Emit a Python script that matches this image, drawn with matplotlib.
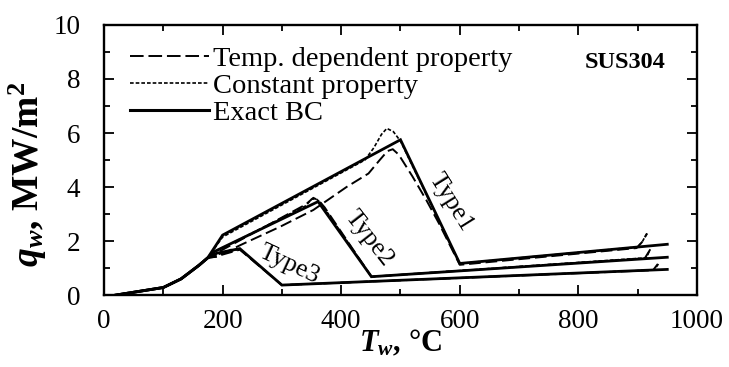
import matplotlib
matplotlib.use("Agg")
import matplotlib.pyplot as plt
from matplotlib.lines import Line2D
from matplotlib.ticker import MultipleLocator

plt.rcParams['font.family'] = ['Liberation Serif', 'DejaVu Serif']
plt.rcParams['mathtext.fontset'] = 'custom'
plt.rcParams['mathtext.rm'] = 'Liberation Serif'
plt.rcParams['mathtext.it'] = 'Liberation Serif:italic'
plt.rcParams['mathtext.bf'] = 'Liberation Serif:bold'
plt.rcParams['mathtext.bfit'] = 'Liberation Serif:italic:bold'

# common rising part (all cases)
rise_T = [20, 100, 130, 160, 175]
rise_q = [0.0, 0.28, 0.60, 1.10, 1.38]

# Type1
t1_exact_T = rise_T + [200, 500, 600, 950]
t1_exact_q = rise_q + [2.22, 5.75, 1.17, 1.88]
t1_const_T = rise_T + [200, 440, 455, 468, 477, 488, 500, 600, 900, 908, 916]
t1_const_q = rise_q + [2.15, 5.00, 5.45, 5.95, 6.17, 6.05, 5.70, 1.17, 1.78, 1.98, 2.30]
t1_temp_T = rise_T + [190, 230, 297, 353, 409, 446, 465, 478, 487, 497, 520, 544, 565, 600, 898, 907, 916]
t1_temp_q = rise_q + [1.42, 1.85, 2.53, 3.15, 4.00, 4.50, 5.00, 5.33, 5.40, 5.20, 4.40, 3.50, 2.65, 1.12, 1.74, 1.95, 2.28]

# Type2
t2_exact_T = rise_T + [185, 361, 451, 950]
t2_exact_q = rise_q + [1.60, 3.46, 0.68, 1.40]
t2_const_T = rise_T + [185, 340, 350, 358, 366, 451, 915, 921]
t2_const_q = rise_q + [1.58, 3.30, 3.55, 3.56, 3.40, 0.68, 1.38, 1.70]
t2_temp_T = rise_T + [185, 340, 353, 362, 372, 451, 912, 921]
t2_temp_q = rise_q + [1.50, 3.35, 3.60, 3.50, 3.25, 0.68, 1.36, 1.68]

# Type3
t3_exact_T = rise_T + [190, 229, 300, 950]
t3_exact_q = rise_q + [1.55, 1.72, 0.37, 0.95]
t3_const_T = rise_T + [188, 200, 229, 300, 928, 935]
t3_const_q = rise_q + [1.48, 1.55, 1.70, 0.37, 0.93, 1.15]
t3_temp_T = rise_T + [188, 200, 229, 300, 926, 934]
t3_temp_q = rise_q + [1.42, 1.50, 1.68, 0.37, 0.92, 1.15]

fig = plt.figure(figsize=(7.29, 3.67), dpi=100)
ax = fig.add_axes([0.1427, 0.196, 0.8133, 0.736])

long_dash = (0, (6, 2.5))
short_dash = (0, (2.2, 1.2))

for T, q in [(t1_temp_T, t1_temp_q), (t2_temp_T, t2_temp_q), (t3_temp_T, t3_temp_q)]:
    ax.plot(T, q, color='black', lw=1.4, linestyle=long_dash)
for T, q in [(t1_const_T, t1_const_q), (t2_const_T, t2_const_q), (t3_const_T, t3_const_q)]:
    ax.plot(T, q, color='black', lw=1.2, linestyle=short_dash)
for T, q in [(t1_exact_T, t1_exact_q), (t2_exact_T, t2_exact_q), (t3_exact_T, t3_exact_q)]:
    ax.plot(T, q, color='black', lw=2.0, solid_joinstyle='miter')

ax.set_xlim(0, 1000)
ax.set_ylim(0, 10)
ax.xaxis.set_major_locator(MultipleLocator(200))
ax.xaxis.set_minor_locator(MultipleLocator(100))
ax.yaxis.set_major_locator(MultipleLocator(2))
ax.yaxis.set_minor_locator(MultipleLocator(1))
ax.tick_params(which='both', direction='in', top=True, right=True, width=1.3, labelsize=19.5)
ax.tick_params(which='major', length=7)
ax.tick_params(which='minor', length=4)
ax.tick_params(axis='y', pad=17)
ax.tick_params(axis='x', pad=10)
for s in ax.spines.values():
    s.set_linewidth(1.7)

ax.set_xlabel(r'$\mathbfit{T}_{\mathbfit{w}}$, °C', fontsize=22, fontweight='bold', labelpad=-4)
ax.set_ylabel(r'$\mathbfit{q}_{\mathbfit{w}}$, MW/m$^{\mathbf{2}}$', fontsize=27, fontweight='bold')
ax.yaxis.set_label_coords(-0.093, 0.445)

ax.text(585, 3.45, 'Type1', rotation=-58, fontsize=18.5, ha='center', va='center')
ax.text(447, 2.1, 'Type2', rotation=-52, fontsize=18.5, ha='center', va='center')
ax.text(313, 1.12, 'Type3', rotation=-25, fontsize=18.5, ha='center', va='center')
ax.text(879, 8.6, 'SUS304', fontsize=17.5, fontweight='bold', ha='center', va='center')

handles = [
    Line2D([], [], color='black', lw=1.4, linestyle=(0, (7, 2.5))),
    Line2D([], [], color='black', lw=1.2, linestyle=(0, (2.2, 1.2))),
    Line2D([], [], color='black', lw=2.2),
]
labels = ['Temp. dependent property', 'Constant property', 'Exact BC']
ax.legend(handles, labels, loc='upper left', frameon=False, fontsize=20.5,
          handlelength=2.75, handletextpad=0.15, labelspacing=0.05,
          borderaxespad=0.0, bbox_to_anchor=(0.025, 0.965))

fig.savefig('out.png', dpi=100)
